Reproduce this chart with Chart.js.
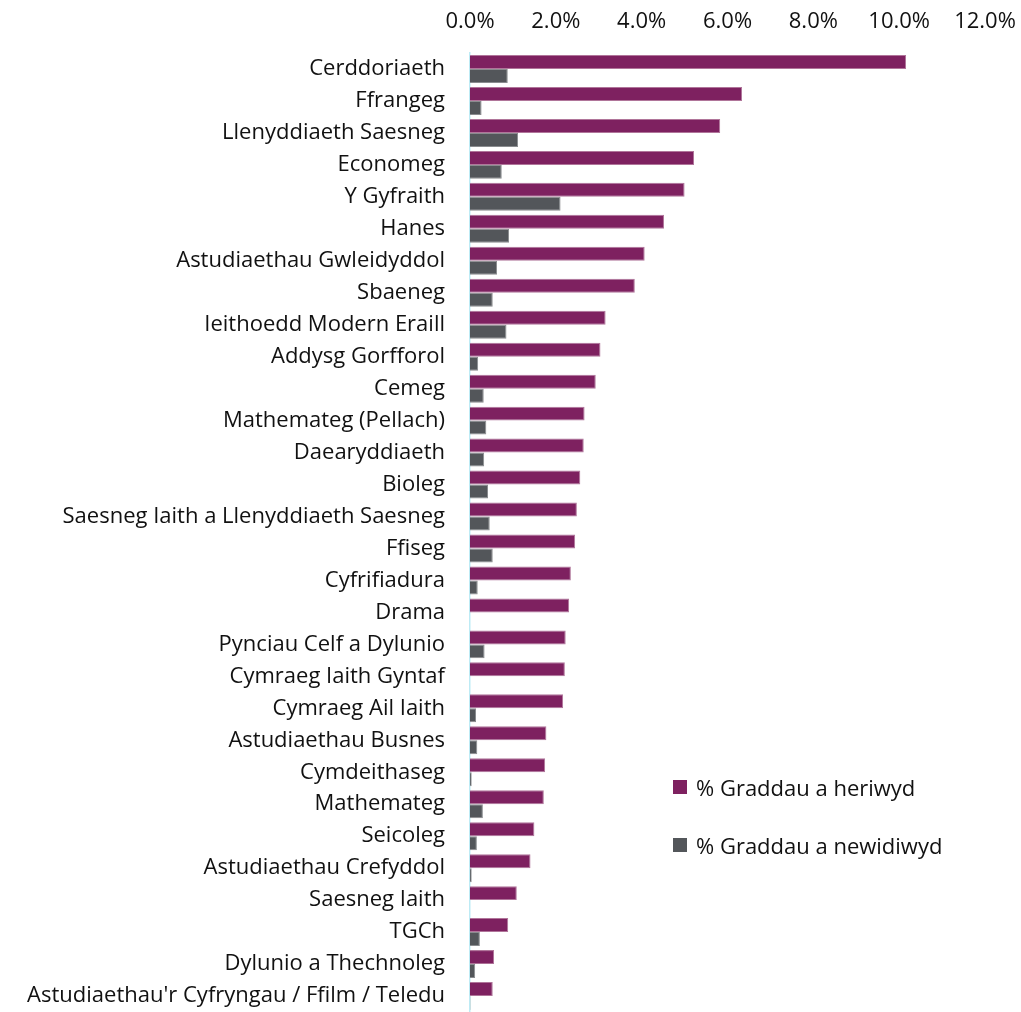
<!DOCTYPE html>
<html>
<head>
<meta charset="utf-8">
<script src="https://cdn.jsdelivr.net/npm/chart.js@4.4.0/dist/chart.umd.min.js"></script>
<style>
  body { margin: 0; background: #fff; }
  #wrap { position: relative; width: 1021px; height: 1012px; }
  #legend { position: absolute; left: 673px; top: 772px; font-family: 'Open Sans', sans-serif; font-size: 22px; color: #111; }
  #legend div { display: flex; align-items: center; height: 30px; margin-bottom: 28px; }
  #legend span.box { width: 14px; height: 14px; margin-right: 9px; display: inline-block; }
</style>
</head>
<body>
<div id="wrap">
  <canvas id="chart" width="1021" height="1012"></canvas>
  <div id="legend"></div>
</div>
<script>
const subjects = [
  'Cerddoriaeth', 'Ffrangeg', 'Llenyddiaeth Saesneg', 'Economeg', 'Y Gyfraith', 'Hanes',
  'Astudiaethau Gwleidyddol', 'Sbaeneg', 'Ieithoedd Modern Eraill', 'Addysg Gorfforol', 'Cemeg',
  'Mathemateg (Pellach)', 'Daearyddiaeth', 'Bioleg', 'Saesneg Iaith a Llenyddiaeth Saesneg',
  'Ffiseg', 'Cyfrifiadura', 'Drama', 'Pynciau Celf a Dylunio', 'Cymraeg Iaith Gyntaf',
  'Cymraeg Ail Iaith', 'Astudiaethau Busnes', 'Cymdeithaseg', 'Mathemateg', 'Seicoleg',
  'Astudiaethau Crefyddol', 'Saesneg Iaith', 'TGCh', 'Dylunio a Thechnoleg',
  "Astudiaethau'r Cyfryngau / Ffilm / Teledu"
];

// % Graddau a heriwyd
const challenged = [
  10.16, 6.34, 5.83, 5.22, 5.00, 4.52, 4.07, 3.84, 3.16, 3.04, 2.93,
  2.67, 2.65, 2.57, 2.49, 2.45, 2.35, 2.31, 2.23, 2.21,
  2.17, 1.78, 1.75, 1.72, 1.50, 1.41, 1.09, 0.89, 0.56, 0.53
];

// % Graddau a newidiwyd
const changed = [
  0.88, 0.27, 1.12, 0.74, 2.11, 0.91, 0.63, 0.53, 0.85, 0.19, 0.32,
  0.38, 0.33, 0.42, 0.46, 0.53, 0.18, 0.00, 0.34, 0.00,
  0.14, 0.17, 0.04, 0.30, 0.16, 0.04, 0.00, 0.23, 0.12, 0.01
];

const seriesNames = ['% Graddau a heriwyd', '% Graddau a newidiwyd'];
const colors = ['#7E2160', '#53565A'];
const borders = ['#B0759A', '#8A8C8F'];

const font = "'Open Sans', sans-serif";

new Chart(document.getElementById('chart'), {
  type: 'bar',
  data: {
    labels: subjects,
    datasets: [
      { label: seriesNames[0], data: challenged, backgroundColor: colors[0], borderColor: borders[0], borderWidth: 1, borderSkipped: 'left' },
      { label: seriesNames[1], data: changed, backgroundColor: colors[1], borderColor: borders[1], borderWidth: 1, borderSkipped: 'left' }
    ]
  },
  options: {
    indexAxis: 'y',
    responsive: false,
    animation: false,
    layout: { padding: { top: 6, right: 36, bottom: 0, left: 6 } },
    plugins: {
      legend: { display: false },
      tooltip: { enabled: false }
    },
    datasets: {
      bar: { categoryPercentage: 0.875, barPercentage: 1.0 }
    },
    scales: {
      x: {
        position: 'top',
        min: 0,
        max: 12,
        afterFit: scale => {
          scale.paddingLeft = 0;
          scale.paddingRight = 0;
          scale.height = 47;
        },
        ticks: {
          stepSize: 2,
          color: '#111',
          font: { family: font, size: 22 },
          padding: 18,
          callback: v => v.toFixed(1) + '%'
        },
        grid: { display: false, drawTicks: false },
        border: { display: false }
      },
      y: {
        afterFit: scale => {
          scale.width = 464;
          scale.paddingTop = 0;
          scale.paddingBottom = 0;
        },
        ticks: {
          color: '#111',
          font: { family: font, size: 22 },
          padding: 25,
          autoSkip: false
        },
        grid: { display: false, drawTicks: false },
        border: { display: true, color: '#BDEBF5', width: 1.5 }
      }
    }
  }
});

const legend = document.getElementById('legend');
seriesNames.forEach((name, i) => {
  const row = document.createElement('div');
  row.innerHTML = '<span class="box" style="background:' + colors[i] + '"></span>' + name;
  legend.appendChild(row);
});
</script>
</body>
</html>
